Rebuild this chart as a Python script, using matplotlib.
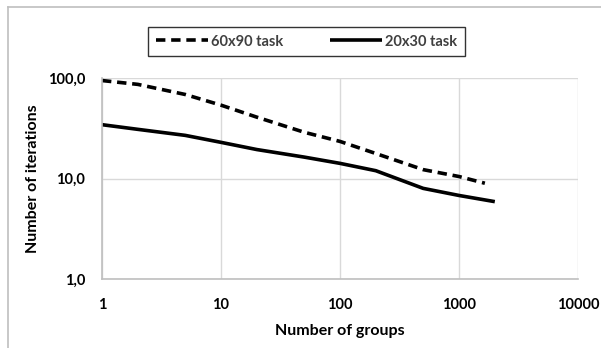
import matplotlib
matplotlib.use("Agg")
import matplotlib.pyplot as plt
from matplotlib.lines import Line2D

plt.rcParams['font.family'] = ['Lato', 'DejaVu Sans']
plt.rcParams['font.weight'] = 'bold'

# values
groups_60x90 = [1, 2, 5, 10, 20, 50, 100, 200, 500, 1000, 1650]
iters_60x90 = [95, 87, 69, 54, 41, 29, 23.5, 17.8, 12.3, 10.5, 9.0]
groups_20x30 = [1, 2, 5, 10, 20, 50, 100, 200, 500, 1000, 2000]
iters_20x30 = [34.5, 31, 27, 23, 19.5, 16.4, 14.2, 12, 8.0, 6.8, 5.9]

x_ticks = [1, 10, 100, 1000, 10000]
x_labels = ["1", "10", "100", "1000", "10000"]
y_ticks = [1, 10, 100]
y_labels = ["1,0", "10,0", "100,0"]

fig = plt.figure(figsize=(6.01, 3.48), dpi=100)
ax = fig.add_axes([102 / 601, 69 / 348, 476 / 601, 200.7 / 348])

ax.plot(groups_60x90, iters_60x90, color='black', lw=2.6, linestyle=(0, (2.6, 1.6)),
        label='60x90 task', solid_joinstyle='round')
ax.plot(groups_20x30, iters_20x30, color='black', lw=2.6, label='20x30 task',
        solid_joinstyle='round', solid_capstyle='butt')

ax.set_xscale('log')
ax.set_yscale('log')
ax.set_xlim(1, 10000)
ax.set_ylim(1, 100)
ax.set_xticks(x_ticks)
ax.set_xticklabels(x_labels)
ax.set_yticks(y_ticks)
ax.set_yticklabels(y_labels)
ax.minorticks_off()
ax.tick_params(length=0, labelsize=10.5, colors='black')
ax.tick_params(axis='x', pad=14)
ax.tick_params(axis='y', pad=12)

ax.grid(True, color='#d9d9d9', lw=1)
for s in ['top', 'right']:
    ax.spines[s].set_visible(False)
for s in ['left', 'bottom']:
    ax.spines[s].set_color('#bfbfbf')
    ax.spines[s].set_linewidth(1.2)

ax.set_xlabel('Number of groups', fontsize=11.5, fontweight='bold', labelpad=8)
ax.set_ylabel('Number of iterations', fontsize=11.5, fontweight='bold', labelpad=6)

leg = fig.legend(loc='center', bbox_to_anchor=(306.5 / 601, 1 - 41.5 / 348), ncol=2,
                 frameon=True, fancybox=False, edgecolor='black',
                 prop={'weight': 'bold', 'size': 10.5},
                 handlelength=3.6, columnspacing=3.2, handletextpad=0.2,
                 borderpad=0.5, borderaxespad=0)
leg.get_frame().set_linewidth(1.0)
for t in leg.get_texts():
    t.set_color('#404040')

# outer chart frame (only top and left edges visible)
fig.add_artist(Line2D([8 / 601, 8 / 601], [0, 1 - 7 / 348], color='#bfbfbf', lw=1.2))
fig.add_artist(Line2D([8 / 601, 1], [1 - 7 / 348, 1 - 7 / 348], color='#bfbfbf', lw=1.2))

fig.savefig('out.png', dpi=100)
